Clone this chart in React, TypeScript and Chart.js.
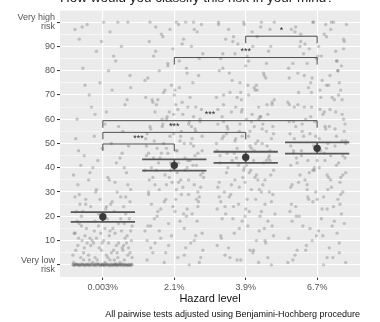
import React, { useEffect, useRef } from "react";
import { Chart, registerables } from "chart.js";

Chart.register(...registerables);

const categories = ["0.003%", "2.1%", "3.9%", "6.7%"];

// jittered responses per hazard level: [horizontal jitter, rating]
const pts0: [number, number][] = [
  [-0.42, 0.2], [-0.40, -0.3], [-0.38, 0.1], [-0.37, 0.3], [-0.35, -0.2], [-0.33, 0], [-0.31, 0.4], [-0.30, -0.1],
  [-0.28, 0.2], [-0.26, -0.4], [-0.25, 0], [-0.23, 0.3], [-0.21, -0.2], [-0.19, 0.1], [-0.18, -0.3], [-0.16, 0.4],
  [-0.14, 0], [-0.12, -0.1], [-0.11, 0.3], [-0.09, -0.4], [-0.07, 0.2], [-0.05, 0], [-0.04, -0.2], [-0.02, 0.3],
  [0.00, 0.1], [0.02, -0.3], [0.03, 0.4], [0.05, 0], [0.07, -0.1], [0.08, 0.2], [0.10, -0.4], [0.12, 0.3],
  [0.14, 0], [0.15, -0.2], [0.17, 0.1], [0.19, 0.4], [0.21, -0.3], [0.22, 0], [0.24, 0.2], [0.26, -0.1],
  [0.28, 0.3], [0.29, -0.4], [0.31, 0], [0.33, 0.2], [0.35, -0.2], [0.36, 0.1], [0.38, -0.3], [0.40, 0.3],
  [0.41, 0], [-0.27, 0.1], [0.13, -0.2], [-0.06, 0.4], [0.32, -0.1], [-0.36, 0.2], [0.20, 0],
  [-0.41, -0.1], [-0.39, 0.3], [-0.34, 0.1], [-0.32, -0.3], [-0.29, 0.2], [-0.24, -0.1], [-0.20, 0.3], [-0.17, 0],
  [-0.13, -0.2], [-0.10, 0.1], [-0.08, 0.4], [-0.03, -0.3], [-0.01, 0.2], [0.01, 0], [0.04, -0.1], [0.06, 0.3],
  [0.09, -0.2], [0.11, 0.1], [0.16, 0.4], [0.18, -0.3], [0.23, 0.1], [0.25, -0.2], [0.27, 0.3], [0.30, 0.1],
  [0.34, -0.3], [0.37, 0.2], [0.39, -0.1], [-0.22, 0.1], [0.00, -0.2], [0.18, 0.2],
  [-0.31, 3], [0.12, 5], [-0.08, 2], [0.27, 7], [-0.22, 9], [0.35, 4], [0.03, 1], [-0.38, 6],
  [0.19, 8], [-0.15, 10], [0.30, 2], [-0.02, 6], [0.08, 9], [-0.27, 5], [0.40, 10], [-0.11, 3],
  [0.24, 1], [-0.35, 8], [0.15, 6], [-0.19, 2], [0.05, 4], [0.33, 9], [-0.41, 1], [0.21, 3],
  [-0.05, 7], [-0.29, 10], [0.38, 5], [0.10, 2], [-0.13, 9], [0.28, 6],
  [-0.20, 4], [0.16, 2], [-0.34, 11], [0.29, 8], [-0.03, 13], [0.07, 3], [-0.26, 7], [0.39, 14],
  [-0.14, 1], [0.25, 19], [-0.37, 22], [0.01, 10], [0.13, 26], [-0.09, 31], [0.35, 33], [-0.30, 16],
  [0.20, 5], [-0.42, 4], [0.05, 24], [-0.17, 8], [0.30, 17], [-0.24, 27], [0.10, 14], [0.41, 3],
  [-0.06, 21], [-0.39, 13], [0.22, 9], [-0.11, 18], [0.32, 28], [-0.27, 2], [0.17, 34], [-0.01, 9],
  [0.36, 7], [-0.32, 25], [0.03, 15],
  [-0.25, 12], [0.14, 15], [-0.36, 18], [0.31, 11], [0.02, 20], [-0.12, 14], [0.22, 17], [-0.40, 13],
  [0.37, 19], [-0.06, 16], [0.09, 12], [-0.30, 20], [0.26, 14], [-0.18, 11], [0.41, 16], [0.0, 18],
  [-0.23, 15], [0.17, 13], [-0.33, 17], [0.06, 19], [0.34, 12], [-0.09, 11],
  [-0.28, 22], [0.11, 25], [-0.39, 28], [0.32, 21], [-0.04, 27], [0.20, 30], [-0.17, 24], [0.38, 26],
  [-0.33, 29], [0.04, 23], [0.25, 28], [-0.10, 30], [-0.24, 25], [0.16, 22], [0.29, 24],
  [-0.35, 33], [0.07, 36], [-0.14, 40], [0.33, 38], [-0.26, 45], [0.19, 42], [-0.01, 48], [0.39, 31],
  [-0.41, 37], [0.12, 50], [-0.20, 35], [0.27, 46], [-0.07, 43], [0.36, 49], [-0.31, 41],
  [-0.18, 38], [0.24, 44], [-0.38, 52], [0.03, 58], [0.34, 68], [-0.25, 74], [0.15, 86], [-0.02, 92],
  [0.30, 40], [-0.34, 47], [0.09, 35], [-0.11, 62], [0.39, 73], [-0.29, 98], [0.21, 100],
  [-0.12, 53], [0.22, 57], [-0.36, 60], [0.05, 63], [0.31, 66], [-0.19, 70], [0.13, 72], [-0.04, 75],
  [0.38, 78], [-0.28, 81], [0.18, 84], [-0.09, 88], [0.26, 90], [-0.33, 93], [0.10, 96], [-0.22, 99],
  [0.35, 100], [0.01, 100], [-0.39, 97], [0.28, 55], [-0.16, 65], [0.08, 80],
];

const pts1: [number, number][] = [
  [-0.38, 2], [0.21, 0], [-0.12, 5], [0.35, 1], [-0.27, 9], [0.05, 3], [0.30, 12], [-0.33, 7],
  [0.14, 15], [-0.19, 11], [0.40, 6], [0.08, 18], [-0.41, 14], [0.25, 21], [-0.08, 17], [0.33, 24],
  [-0.24, 20], [0.02, 27], [0.18, 23], [-0.36, 30], [-0.14, 26], [0.28, 33], [0.10, 29], [-0.30, 36],
  [0.37, 32], [-0.05, 39], [0.20, 35], [-0.22, 42], [0.04, 38], [-0.39, 45], [0.31, 41], [-0.11, 48],
  [0.15, 44], [-0.28, 51], [0.39, 47], [-0.01, 54], [0.23, 50], [-0.34, 57], [0.09, 53], [-0.17, 60],
  [0.29, 56], [-0.07, 63], [0.36, 59], [-0.25, 66], [0.12, 62], [-0.40, 69], [0.19, 65], [0.01, 72],
  [-0.31, 68], [0.26, 75], [-0.15, 71], [0.34, 78], [-0.04, 74], [0.17, 81], [-0.37, 77], [0.07, 84],
  [-0.21, 80], [0.40, 87], [-0.09, 83], [0.24, 90], [-0.29, 86], [0.13, 93], [-0.02, 89], [0.32, 96],
  [-0.35, 92], [0.06, 99], [-0.18, 95], [0.27, 100], [-0.26, 98], [0.16, 100], [-0.06, 97], [0.38, 99],
  [-0.32, 25], [0.03, 31], [-0.13, 37], [0.22, 43], [-0.39, 49], [0.30, 55], [-0.10, 61], [0.11, 67],
  [-0.23, 22], [0.35, 28], [-0.03, 34], [0.18, 40], [-0.36, 46], [0.25, 52], [-0.16, 58], [0.05, 64],
  [-0.28, 19], [0.39, 13], [-0.08, 8], [0.14, 4], [-0.33, 16], [0.28, 10], [-0.20, 44], [0.09, 35],
  [-0.41, 39], [0.33, 46], [-0.12, 27], [0.20, 58], [-0.27, 33], [0.02, 47], [0.37, 37], [-0.06, 53],
  [-0.37, 16], [0.13, 21], [-0.02, 24], [0.31, 27], [-0.21, 31], [0.06, 34], [0.40, 38], [-0.32, 40],
  [0.19, 43], [-0.09, 46], [0.27, 49], [-0.40, 52], [0.10, 55], [-0.17, 57], [0.36, 60], [-0.27, 63],
  [0.02, 66], [0.22, 69], [-0.13, 72], [0.33, 30], [-0.35, 35], [0.15, 39], [-0.05, 42], [0.29, 45],
  [-0.24, 48], [0.08, 51], [-0.38, 54], [0.24, 57], [-0.11, 60], [0.38, 64], [-0.30, 67], [0.00, 70],
  [0.17, 20], [-0.19, 23], [0.34, 26], [-0.36, 29], [0.12, 32], [-0.07, 36], [0.26, 41], [-0.29, 44],
  [0.04, 47], [-0.15, 50], [0.39, 53], [-0.33, 56], [0.21, 59], [-0.01, 62], [0.30, 65], [-0.23, 68],
  [0.07, 73], [-0.41, 76], [0.18, 79], [-0.09, 82], [0.35, 85], [-0.26, 88], [0.11, 91], [-0.16, 94],
  [0.28, 97], [-0.34, 100], [0.03, 100], [-0.04, 12], [0.23, 9], [-0.30, 5], [0.37, 3], [-0.14, 1],
  [0.16, 7], [-0.21, 14], [0.32, 18], [-0.38, 10], [0.01, 22], [0.20, 29], [-0.11, 33], [0.41, 36],
  [-0.25, 39], [0.06, 42], [-0.03, 58], [0.27, 61], [-0.18, 46], [0.14, 50],
];

const pts2: [number, number][] = [
  [0.18, 1], [-0.29, 4], [0.36, 0], [-0.07, 2], [0.11, 6], [-0.40, 8], [0.27, 10], [-0.16, 13],
  [0.03, 16], [0.39, 12], [-0.33, 19], [0.22, 22], [-0.10, 25], [0.31, 18], [-0.23, 28], [0.08, 31],
  [-0.37, 34], [0.15, 37], [-0.02, 40], [0.34, 43], [-0.26, 46], [0.06, 49], [-0.14, 52], [0.29, 55],
  [-0.39, 58], [0.20, 61], [-0.05, 64], [0.37, 67], [-0.31, 70], [0.12, 73], [-0.19, 76], [0.25, 79],
  [0.00, 82], [-0.35, 85], [0.32, 88], [-0.11, 91], [0.16, 94], [-0.24, 97], [0.40, 100], [-0.03, 100],
  [0.21, 98], [-0.38, 99], [0.09, 96], [-0.28, 93], [0.35, 90], [-0.15, 87], [0.04, 84], [-0.32, 81],
  [0.26, 78], [-0.08, 75], [0.13, 72], [-0.41, 69], [0.30, 66], [-0.20, 63], [0.01, 60], [0.38, 57],
  [-0.27, 54], [0.17, 51], [-0.12, 48], [0.33, 45], [-0.36, 42], [0.07, 39], [-0.04, 36], [0.24, 33],
  [-0.30, 30], [0.14, 27], [-0.17, 24], [0.41, 21], [-0.09, 15], [0.28, 9], [-0.34, 11], [0.10, 5],
  [-0.22, 3], [0.19, 14], [-0.01, 20], [0.36, 26], [-0.39, 32], [0.05, 38], [-0.13, 44], [0.23, 50],
  [-0.25, 56], [0.31, 62], [-0.06, 68], [0.15, 74], [-0.37, 80], [0.02, 86], [-0.18, 92], [0.27, 35],
  [-0.10, 41], [0.34, 47], [-0.31, 53], [0.08, 59], [-0.21, 29], [0.39, 39], [-0.02, 45], [0.18, 65],
  [-0.40, 23], [0.12, 57], [-0.15, 35], [0.29, 43], [-0.33, 61], [0.04, 53], [0.22, 30], [-0.07, 71],
  [0.26, 15], [-0.18, 19], [0.05, 22], [-0.35, 26], [0.38, 29], [-0.09, 32], [0.17, 35], [-0.27, 38],
  [0.01, 41], [0.32, 44], [-0.40, 47], [0.14, 50], [-0.05, 53], [0.23, 56], [-0.31, 59], [0.09, 62],
  [-0.14, 65], [0.40, 68], [-0.22, 71], [0.03, 74], [0.28, 77], [-0.37, 28], [0.19, 31], [-0.01, 34],
  [0.35, 37], [-0.25, 40], [0.11, 43], [-0.16, 46], [0.30, 49], [-0.33, 52], [0.06, 55], [-0.08, 58],
  [0.21, 61], [-0.39, 64], [0.37, 66], [-0.12, 69], [0.16, 72], [-0.29, 24], [0.02, 27], [0.33, 30],
  [-0.20, 33], [0.13, 36], [-0.03, 39], [0.25, 42], [-0.36, 45], [0.08, 48], [-0.15, 51], [0.39, 54],
  [-0.26, 57], [0.18, 60], [-0.06, 63], [0.29, 83], [-0.32, 87], [0.10, 90], [-0.17, 94], [0.34, 97],
  [-0.02, 99], [0.22, 100], [-0.38, 100], [0.06, 6], [-0.12, 2], [0.31, 3], [-0.24, 7], [0.15, 10],
  [-0.35, 12], [0.37, 16], [-0.05, 18], [0.20, 20], [-0.28, 21], [0.00, 23], [0.27, 25], [-0.19, 43],
  [0.12, 47], [-0.41, 50], [0.36, 52], [-0.09, 55], [0.24, 58], [-0.31, 66], [0.04, 70], [-0.23, 79],
];

const pts3: [number, number][] = [
  [-0.34, 2], [0.09, 0], [0.31, 5], [-0.15, 8], [0.22, 3], [-0.40, 11], [0.02, 14], [0.38, 17],
  [-0.25, 20], [0.14, 23], [-0.06, 26], [0.33, 29], [-0.37, 32], [0.19, 35], [-0.11, 38], [0.27, 41],
  [-0.29, 44], [0.05, 47], [0.40, 50], [-0.19, 53], [0.12, 56], [-0.03, 59], [0.35, 62], [-0.32, 65],
  [0.24, 68], [-0.08, 71], [0.16, 74], [-0.39, 77], [0.29, 80], [-0.14, 83], [0.01, 86], [0.37, 89],
  [-0.23, 92], [0.10, 95], [-0.30, 98], [0.20, 100], [-0.05, 100], [0.41, 99], [-0.36, 97], [0.13, 94],
  [-0.17, 91], [0.26, 88], [-0.01, 85], [0.34, 82], [-0.27, 79], [0.07, 76], [-0.12, 73], [0.30, 70],
  [-0.41, 67], [0.18, 64], [-0.09, 61], [0.39, 58], [-0.21, 55], [0.03, 52], [0.25, 49], [-0.33, 46],
  [0.11, 43], [-0.04, 40], [0.36, 37], [-0.26, 34], [0.15, 31], [-0.13, 28], [0.32, 25], [-0.38, 22],
  [0.06, 19], [-0.20, 16], [0.28, 13], [-0.07, 10], [0.17, 7], [-0.31, 4], [0.40, 1], [-0.16, 6],
  [0.08, 12], [-0.35, 18], [0.23, 24], [-0.02, 30], [0.33, 36], [-0.28, 42], [0.13, 48], [-0.10, 54],
  [0.37, 60], [-0.39, 66], [0.04, 72], [-0.18, 78], [0.27, 84], [-0.24, 90], [0.19, 45], [-0.06, 39],
  [0.35, 51], [-0.30, 57], [0.10, 63], [-0.14, 33], [0.29, 27], [-0.37, 49], [0.00, 43], [0.21, 69],
  [-0.22, 47], [0.38, 55], [-0.08, 65], [0.14, 37], [-0.33, 59], [0.31, 75],
  [0.21, 16], [-0.29, 20], [0.07, 23], [-0.12, 27], [0.36, 30], [-0.35, 33], [0.16, 36], [-0.04, 39],
  [0.30, 42], [-0.22, 45], [0.01, 48], [0.40, 51], [-0.38, 54], [0.11, 57], [-0.16, 60], [0.26, 63],
  [-0.27, 66], [0.05, 69], [0.33, 72], [-0.09, 75], [0.18, 78], [-0.40, 81], [0.28, 84], [-0.19, 87],
  [0.02, 90], [0.37, 93], [-0.31, 96], [0.12, 99], [-0.06, 100], [0.23, 100], [-0.36, 25], [0.09, 28],
  [-0.14, 31], [0.32, 34], [-0.24, 37], [0.03, 40], [0.39, 44], [-0.33, 47], [0.15, 50], [-0.02, 53],
  [0.25, 56], [-0.39, 59], [0.08, 62], [-0.18, 65], [0.35, 68], [-0.26, 71], [0.13, 74], [-0.07, 77],
  [0.29, 80], [-0.34, 83], [0.06, 86], [-0.11, 89], [0.38, 92], [-0.23, 95], [0.19, 97], [-0.01, 12],
  [0.31, 9], [-0.28, 6], [0.14, 3], [-0.41, 1], [0.24, 18], [-0.10, 15], [0.34, 21], [-0.30, 24],
  [0.00, 27], [0.20, 32], [-0.17, 35], [0.40, 38], [-0.37, 41], [0.10, 46], [-0.05, 49], [0.27, 53],
  [-0.21, 58], [0.04, 64], [0.36, 45], [-0.32, 52], [0.17, 57], [-0.13, 43],
];

const jitterSets = [pts0, pts1, pts2, pts3];

const meanValues = [19.8, 41.0, 44.3, 48.0];
const upperValues = [21.7, 43.5, 46.6, 50.5];
const lowerValues = [17.7, 38.8, 42.0, 45.8];

const bracketFrom = [0, 0, 0, 1, 2];
const bracketTo = [1, 2, 3, 3, 3];
const bracketY = [49.8, 54.6, 59.4, 85.4, 94.2];
const bracketLabels = ["***", "***", "***", "***", "*"];
const bracketTip = 2.9;

const yMajorTicks = [0, 10, 20, 30, 40, 50, 60, 70, 80, 90, 100];
const yMinorTicks = [-5, 5, 15, 25, 35, 45, 55, 65, 75, 85, 95, 105];

const titleText = "How would you classify this risk in your mind?";
const xTitle = "Hazard level";
const captionText = "All pairwise tests adjusted using Benjamini-Hochberg procedure";

const FONT = '"Liberation Sans", Arial, Helvetica, sans-serif';

function yLabel(v: number): string | string[] {
  if (v === 0) return ["Very low", "risk"];
  if (v === 100) return ["Very high", "risk"];
  if (yMajorTicks.includes(v)) return String(v);
  return "";
}

export default function App() {
  const ref = useRef<HTMLCanvasElement>(null);

  useEffect(() => {
    if (!ref.current) return;
    const jitterData: { x: number; y: number }[] = [];
    jitterSets.forEach((set, i) => set.forEach(([dx, v]) => jitterData.push({ x: i + dx, y: v })));
    const meanData = meanValues.map((v, i) => ({ x: i, y: v }));

    const decor = {
      id: "decor",
      beforeDraw(chart: any) {
        const { ctx, chartArea: a } = chart;
        ctx.save();
        ctx.fillStyle = "#EBEBEB";
        ctx.fillRect(a.left, a.top, a.right - a.left, a.bottom - a.top);
        ctx.restore();
      },
      afterDatasetDraw(chart: any, args: any) {
        if (args.index !== 0) return;
        const { ctx } = chart;
        const xs = chart.scales.x, ys = chart.scales.y;
        ctx.save();
        ctx.strokeStyle = "#585858";
        ctx.lineWidth = 1.8;
        meanValues.forEach((_, i) => {
          const l = xs.getPixelForValue(i - 0.45);
          const r = xs.getPixelForValue(i + 0.45);
          const c = xs.getPixelForValue(i);
          const yu = ys.getPixelForValue(upperValues[i]);
          const yl = ys.getPixelForValue(lowerValues[i]);
          ctx.beginPath();
          ctx.moveTo(l, yu); ctx.lineTo(r, yu);
          ctx.moveTo(l, yl); ctx.lineTo(r, yl);
          ctx.moveTo(c, yu); ctx.lineTo(c, yl);
          ctx.stroke();
        });
        ctx.restore();
      },
      afterDatasetsDraw(chart: any) {
        const { ctx } = chart;
        const xs = chart.scales.x, ys = chart.scales.y;
        ctx.save();
        ctx.strokeStyle = "#4a4a4a";
        ctx.lineWidth = 1;
        ctx.fillStyle = "#2a2a2a";
        ctx.font = `9px ${FONT}`;
        ctx.textAlign = "center";
        ctx.textBaseline = "alphabetic";
        bracketFrom.forEach((f, k) => {
          const x1 = xs.getPixelForValue(f);
          const x2 = xs.getPixelForValue(bracketTo[k]);
          const yt = ys.getPixelForValue(bracketY[k]);
          const yb = ys.getPixelForValue(bracketY[k] - bracketTip);
          ctx.beginPath();
          ctx.moveTo(x1, yb); ctx.lineTo(x1, yt); ctx.lineTo(x2, yt); ctx.lineTo(x2, yb);
          ctx.stroke();
          ctx.fillText(bracketLabels[k], (x1 + x2) / 2, yt - 3.3);
        });
        ctx.restore();
      },
      afterDraw(chart: any) {
        const { ctx, chartArea: a } = chart;
        ctx.save();
        ctx.fillStyle = "#222";
        ctx.font = `13.5px ${FONT}`;
        ctx.textAlign = "left";
        ctx.textBaseline = "alphabetic";
        ctx.fillText(titleText, a.left, 2);
        ctx.fillStyle = "#111";
        ctx.font = `11px ${FONT}`;
        ctx.textAlign = "center";
        ctx.textBaseline = "middle";
        ctx.fillText(xTitle, (a.left + a.right) / 2, 299);
        ctx.font = `9px ${FONT}`;
        ctx.textAlign = "right";
        ctx.fillText(captionText, a.right, 315);
        ctx.restore();
      },
    };

    const chart = new Chart(ref.current, {
      type: "scatter",
      data: {
        datasets: [
          {
            data: jitterData,
            order: 2,
            pointRadius: 1.7,
            pointHoverRadius: 1.7,
            backgroundColor: "rgba(80,80,80,0.28)",
            borderWidth: 0,
          },
          {
            data: meanData,
            order: 1,
            pointRadius: 3.7,
            pointHoverRadius: 3.7,
            backgroundColor: "#3a3a3a",
            borderWidth: 0,
          },
        ],
      },
      options: {
        animation: false,
        responsive: false,
        events: [],
        layout: { padding: { left: 0, right: 20, top: 10, bottom: 0 } },
        plugins: { legend: { display: false }, tooltip: { enabled: false }, title: { display: false } },
        scales: {
          x: {
            type: "linear",
            min: -0.6,
            max: 3.6,
            afterBuildTicks: (s: any) => {
              s.ticks = categories.map((_, i) => ({ value: i }));
            },
            afterFit: (s: any) => {
              s.height = 45;
            },
            ticks: {
              autoSkip: false,
              maxRotation: 0,
              padding: 2,
              color: "#555",
              font: { family: FONT, size: 9 },
              callback: (v: any) => categories[Math.round(Number(v))] ?? "",
            },
            grid: { color: "#ffffff", lineWidth: 1.1, tickLength: 3, tickColor: "#333", tickWidth: 1 },
            border: { display: false },
          },
          y: {
            type: "linear",
            min: -5,
            max: 105,
            afterBuildTicks: (s: any) => {
              s.ticks = [...yMinorTicks, ...yMajorTicks].sort((a, b) => a - b).map((v) => ({ value: v }));
            },
            afterFit: (s: any) => {
              s.width = 60;
            },
            ticks: {
              autoSkip: false,
              padding: 2,
              color: "#555",
              font: { family: FONT, size: 9, lineHeight: 1.05 },
              callback: (v: any) => yLabel(Number(v)),
            },
            grid: {
              color: "#ffffff",
              lineWidth: (c: any) => (c.tick && yMajorTicks.includes(c.tick.value) ? 1.1 : 0.55),
              tickLength: 3,
              tickColor: (c: any) => (c.tick && yMajorTicks.includes(c.tick.value) ? "#333" : "rgba(0,0,0,0)"),
              tickWidth: 1,
            },
            border: { display: false },
          },
        },
      },
      plugins: [decor],
    });
    return () => chart.destroy();
  }, []);

  return (
    <div style={{ position: "fixed", left: 0, top: 0, width: 380, height: 322, background: "#fff" }}>
      <canvas ref={ref} width={380} height={322} style={{ width: 380, height: 322, display: "block" }} />
    </div>
  );
}
